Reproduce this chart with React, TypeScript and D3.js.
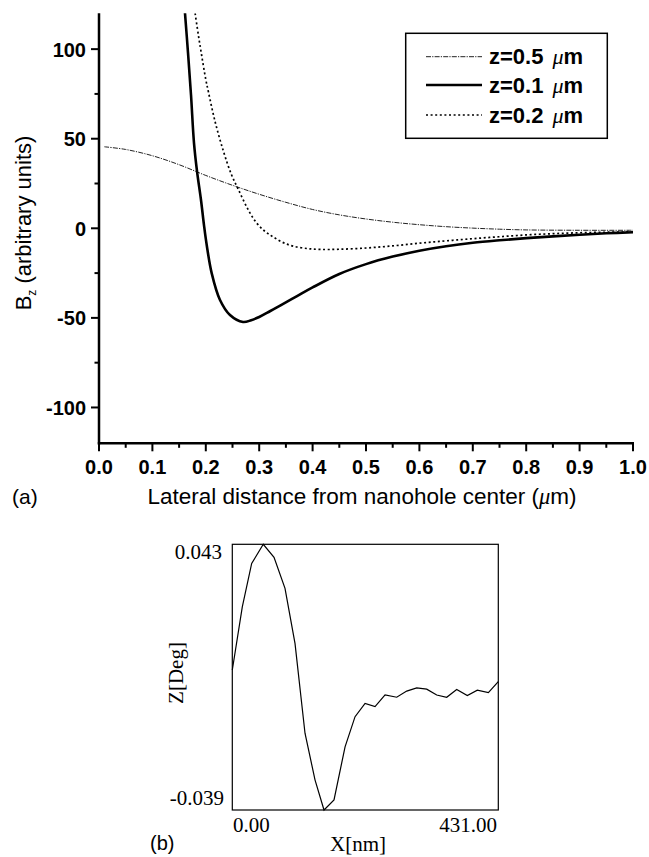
import React from "react";
import * as d3 from "d3";

// ---------- Panel (a) data ----------
const z05X = [0.01, 0.05, 0.1, 0.15, 0.2, 0.25, 0.3, 0.35, 0.4, 0.45, 0.5, 0.55, 0.6, 0.65, 0.7, 0.75, 0.8, 0.9, 1.0];
const z05Y = [45.5, 44, 40.5, 35.5, 29.5, 24, 19, 14.5, 10.5, 7.5, 5.2, 3.4, 2, 0.9, 0.1, -0.5, -0.9, -1.1, -1.1];

const z01X = [0.161, 0.1667, 0.1723, 0.1779, 0.1835, 0.191, 0.1966, 0.2017, 0.211, 0.2266, 0.2453, 0.2697, 0.285, 0.3, 0.32, 0.34, 0.37, 0.4, 0.45, 0.5, 0.55, 0.6, 0.65, 0.7, 0.75, 0.8, 0.85, 0.9, 0.95, 1.0];
const z01Y = [120.2, 97.9, 74.4, 47.6, 32, 15.8, 1.8, -9.3, -25, -40, -48.4, -52.3, -51.3, -49.5, -46.3, -43, -38, -33, -25.5, -20, -15.8, -12.5, -10, -8.1, -6.7, -5.5, -4.5, -3.6, -2.8, -2.2];

const z02X = [0.18, 0.186, 0.192, 0.2, 0.205, 0.217, 0.233, 0.248, 0.262, 0.28, 0.295, 0.31, 0.326, 0.345, 0.364, 0.39, 0.414, 0.45, 0.5, 0.55, 0.6, 0.65, 0.7, 0.75, 0.8, 0.85, 0.9, 0.95, 1.0];
const z02Y = [120, 108, 97, 83, 76, 60, 43, 30, 21, 10, 3, -1.5, -4.8, -8, -10, -11.3, -11.8, -11.7, -11, -9.8, -8.3, -7, -5.8, -4.7, -3.7, -3, -2.5, -2.2, -2];

const xTicksA = [0, 0.1, 0.2, 0.3, 0.4, 0.5, 0.6, 0.7, 0.8, 0.9, 1.0];
const xMinorA = [0.05, 0.15, 0.25, 0.35, 0.45, 0.55, 0.65, 0.75, 0.85, 0.95];
const yTicksA = [-100, -50, 0, 50, 100];
const yMinorA = [-75, -25, 25, 75];

const legendLabels = ["z=0.5 ", "z=0.1 ", "z=0.2 "];

// ---------- Panel (b) data ----------
const bX = [0, 16.2, 31.4, 50.2, 67.6, 85.4, 101.6, 117.8, 134, 148.6, 164.8, 182.7, 198.9, 215.1, 231.3, 247.5, 266.4, 282.6, 298.8, 315, 331.2, 347.4, 363.6, 380.8, 397, 414.9, 431];
const bY = [0.0042, 0.0237, 0.0371, 0.043, 0.039, 0.0294, 0.0124, -0.0153, -0.0297, -0.039, -0.0359, -0.0195, -0.0102, -0.0061, -0.0071, -0.0035, -0.0042, -0.0023, -0.0013, -0.0017, -0.0035, -0.0042, -0.0018, -0.0037, -0.002, -0.0028, 0.0006];

const sans = "'Liberation Sans', Arial, Helvetica, sans-serif";
const serif = "'Liberation Serif', 'Times New Roman', serif";

export default function App() {
  // panel (a) scales
  const xA = d3.scaleLinear().domain([0, 1]).range([99, 633]);
  const yA = d3.scaleLinear().domain([-120, 120]).range([443.3, 13.3]);
  const lineA = d3
    .line<[number, number]>()
    .x((d) => xA(d[0]))
    .y((d) => yA(d[1]))
    .curve(d3.curveCatmullRom.alpha(0.5));
  const zip = (xs: number[], ys: number[]) => xs.map((x, i) => [x, ys[i]] as [number, number]);

  const series = [
    { data: zip(z05X, z05Y), width: 1, dash: "5,1.2,1.2,1.2", color: "#222" },
    { data: zip(z01X, z01Y), width: 2.6, dash: undefined, color: "#000" },
    { data: zip(z02X, z02Y), width: 1.7, dash: "2,2.6", color: "#000" },
  ];

  // panel (b) scales
  const xB = d3.scaleLinear().domain([0, 431]).range([232.3, 498.3]);
  const yB = d3.scaleLinear().domain([-0.039, 0.043]).range([810, 544.3]);
  const lineB = d3
    .line<number>()
    .x((_, i) => xB(bX[i]))
    .y((d) => yB(d));

  const legendRows = [56.7, 85, 115];

  return (
    <svg width={649} height={857} style={{ position: "absolute", left: 0, top: 0, background: "#fff" }}>
      <defs>
        <clipPath id="clipA">
          <rect x={99} y={13.3} width={540} height={430} />
        </clipPath>
      </defs>
      <rect x={0} y={0} width={649} height={857} fill="#fff" />

      {/* Panel (a) curves */}
      <g clipPath="url(#clipA)">
        {series.map((s, i) => (
          <path key={i} d={lineA(s.data) || ""} fill="none" stroke={s.color} strokeWidth={s.width} strokeDasharray={s.dash} />
        ))}
      </g>

      {/* Panel (a) axes */}
      <line x1={xA(0)} x2={xA(0)} y1={yA(120)} y2={yA(-120) + 1.2} stroke="#000" strokeWidth={2.5} />
      <line x1={xA(0) - 1.2} x2={xA(1) + 1} y1={yA(-120)} y2={yA(-120)} stroke="#000" strokeWidth={2.5} />
      {yTicksA.map((t) => (
        <g key={"ya" + t}>
          <line x1={xA(0) - 8} x2={xA(0)} y1={yA(t)} y2={yA(t)} stroke="#000" strokeWidth={2} />
          <text x={86} y={yA(t) + 7.5} textAnchor="end" fontFamily={sans} fontWeight="bold" fontSize={20}>
            {t}
          </text>
        </g>
      ))}
      {yMinorA.map((t) => (
        <line key={"yam" + t} x1={xA(0) - 4.5} x2={xA(0)} y1={yA(t)} y2={yA(t)} stroke="#000" strokeWidth={2} />
      ))}
      {xTicksA.map((t) => (
        <g key={"xa" + t}>
          <line x1={xA(t)} x2={xA(t)} y1={yA(-120)} y2={yA(-120) + 8} stroke="#000" strokeWidth={2} />
          <text x={xA(t)} y={473.5} textAnchor="middle" fontFamily={sans} fontWeight="bold" fontSize={20}>
            {t.toFixed(1)}
          </text>
        </g>
      ))}
      {xMinorA.map((t) => (
        <line key={"xam" + t} x1={xA(t)} x2={xA(t)} y1={yA(-120)} y2={yA(-120) + 4.5} stroke="#000" strokeWidth={2} />
      ))}

      {/* Panel (a) titles */}
      <text x={362} y={504} textAnchor="middle" fontFamily={sans} fontSize={22.5}>
        Lateral distance from nanohole center (<tspan fontFamily={serif} fontStyle="italic">μ</tspan>m)
      </text>
      <text transform="translate(31,223) rotate(-90)" textAnchor="middle" fontFamily={sans} fontSize={22}>
        B<tspan fontSize={12} dy={5}>z</tspan>
        <tspan dy={-5}> (arbitrary units)</tspan>
      </text>
      <text x={12} y={504} fontFamily={sans} fontSize={21}>
        (a)
      </text>

      {/* Legend */}
      <rect x={405.7} y={33.3} width={201.6} height={105} fill="#fff" stroke="#000" strokeWidth={1.5} />
      {series.map((s, i) => (
        <g key={"lg" + i}>
          <line x1={426} x2={482} y1={legendRows[i]} y2={legendRows[i]} stroke={s.color} strokeWidth={s.width} strokeDasharray={s.dash} />
          <text x={489} y={legendRows[i] + 7.5} fontFamily={sans} fontWeight="bold" fontSize={22}>
            {legendLabels[i]}
            <tspan dx={3} fontFamily={serif} fontStyle="italic" fontWeight="normal">μ</tspan>
            <tspan>m</tspan>
          </text>
        </g>
      ))}

      {/* Panel (b) */}
      <rect x={232.3} y={544.3} width={266} height={265.7} fill="none" stroke="#000" strokeWidth={1.2} />
      <path d={lineB(bY) || ""} fill="none" stroke="#000" strokeWidth={1.2} />
      <text x={222} y={559} textAnchor="end" fontFamily={serif} fontSize={21}>
        0.043
      </text>
      <text x={224} y={805} textAnchor="end" fontFamily={serif} fontSize={21}>
        -0.039
      </text>
      <text x={233} y={832} textAnchor="start" fontFamily={serif} fontSize={21}>
        0.00
      </text>
      <text x={497} y={832} textAnchor="end" fontFamily={serif} fontSize={21}>
        431.00
      </text>
      <text x={358} y={851} textAnchor="middle" fontFamily={serif} fontSize={21}>
        X[nm]
      </text>
      <text transform="translate(183,673) rotate(-90)" textAnchor="middle" fontFamily={serif} fontSize={21}>
        Z[Deg]
      </text>
      <text x={150} y={850} fontFamily={sans} fontSize={20}>
        (b)
      </text>
    </svg>
  );
}
